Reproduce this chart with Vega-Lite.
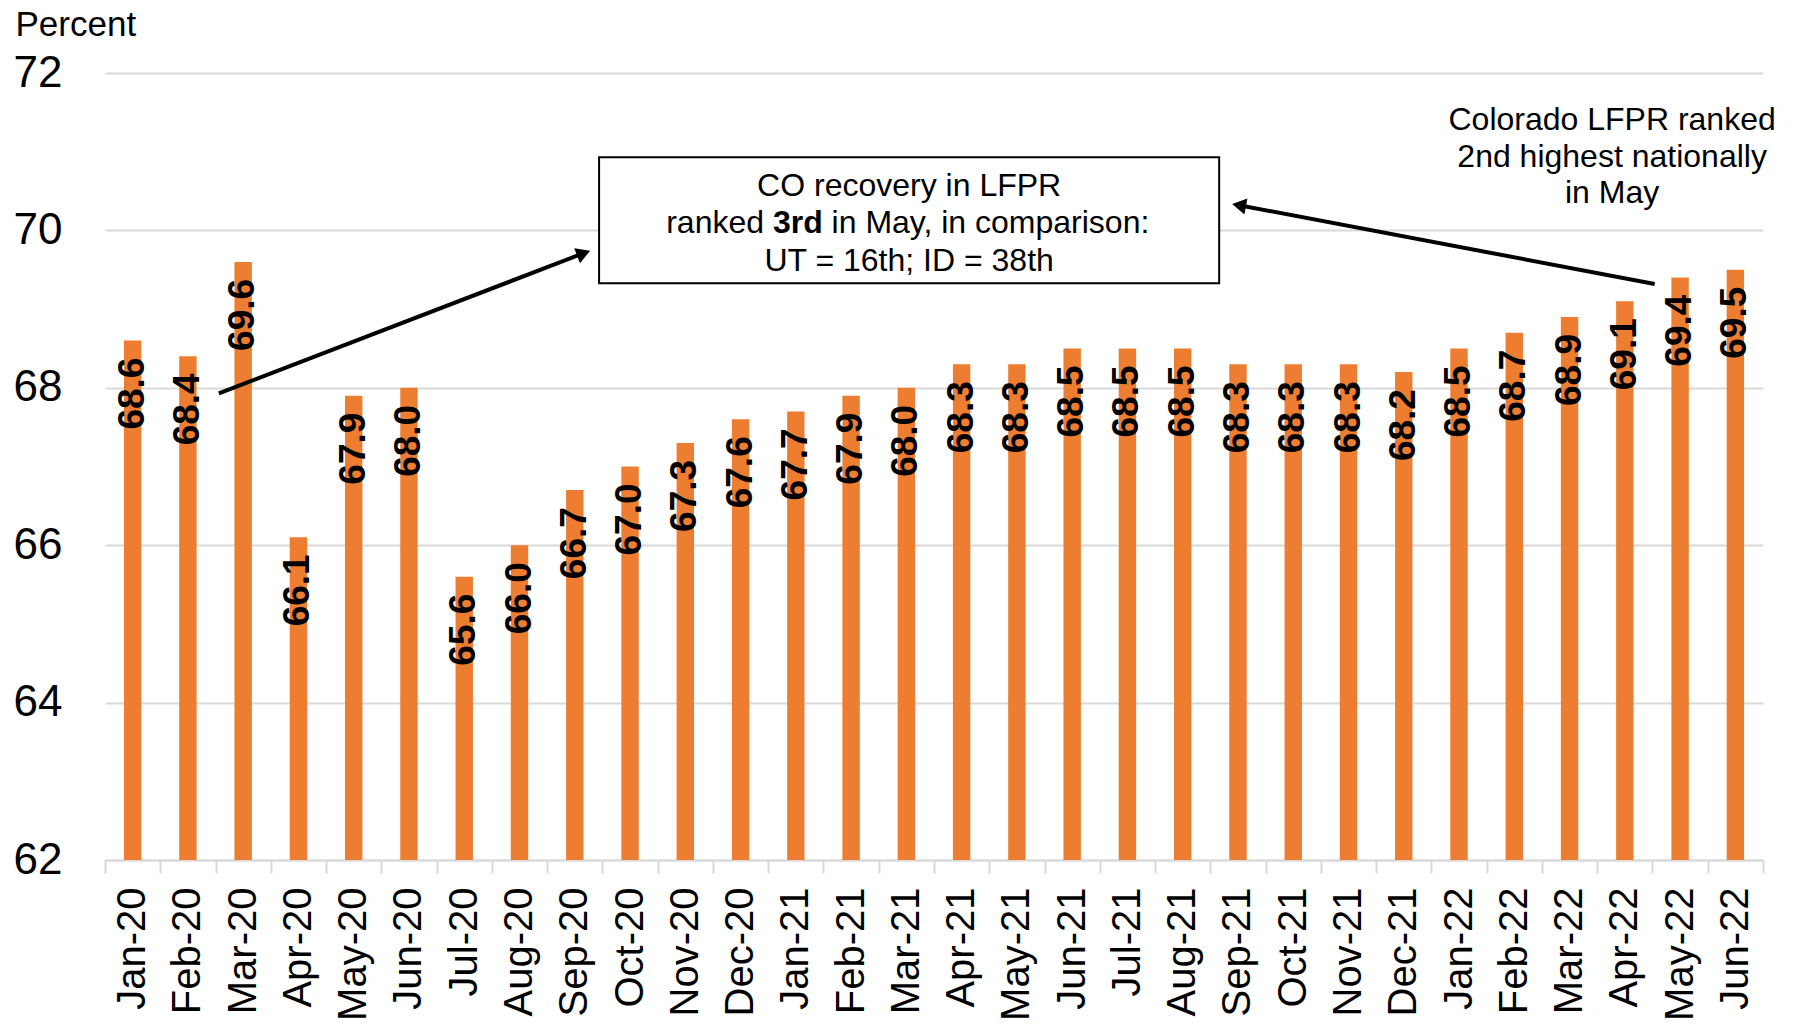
{
  "$schema": "https://vega.github.io/schema/vega-lite/v6.json",
  "width": 1658,
  "height": 787,
  "autosize": {"type": "none"},
  "padding": {"left": 105, "top": 73, "right": 32, "bottom": 168},
  "background": "white",
  "config": {"font": "Liberation Sans", "view": {"stroke": null}},
  "datasets": {
    "lfpr": [
      {"month": "Jan-20", "value": 68.6},
      {"month": "Feb-20", "value": 68.4},
      {"month": "Mar-20", "value": 69.6},
      {"month": "Apr-20", "value": 66.1},
      {"month": "May-20", "value": 67.9},
      {"month": "Jun-20", "value": 68.0},
      {"month": "Jul-20", "value": 65.6},
      {"month": "Aug-20", "value": 66.0},
      {"month": "Sep-20", "value": 66.7},
      {"month": "Oct-20", "value": 67.0},
      {"month": "Nov-20", "value": 67.3},
      {"month": "Dec-20", "value": 67.6},
      {"month": "Jan-21", "value": 67.7},
      {"month": "Feb-21", "value": 67.9},
      {"month": "Mar-21", "value": 68.0},
      {"month": "Apr-21", "value": 68.3},
      {"month": "May-21", "value": 68.3},
      {"month": "Jun-21", "value": 68.5},
      {"month": "Jul-21", "value": 68.5},
      {"month": "Aug-21", "value": 68.5},
      {"month": "Sep-21", "value": 68.3},
      {"month": "Oct-21", "value": 68.3},
      {"month": "Nov-21", "value": 68.3},
      {"month": "Dec-21", "value": 68.2},
      {"month": "Jan-22", "value": 68.5},
      {"month": "Feb-22", "value": 68.7},
      {"month": "Mar-22", "value": 68.9},
      {"month": "Apr-22", "value": 69.1},
      {"month": "May-22", "value": 69.4},
      {"month": "Jun-22", "value": 69.5}
    ],
    "arrows": [
      {"id": 1, "x": 2.06, "y": 67.93, "x2": 8.66, "y2": 69.71},
      {"id": 2, "x": 28.04, "y": 69.32, "x2": 20.52, "y2": 70.32}
    ],
    "box": [
      {"x": 8.94, "x2": 20.16, "y": 70.93, "y2": 69.33}
    ],
    "notes": [
      {"part": "c", "x": 14.55, "y": 70.57, "text": "CO recovery in LFPR"},
      {"part": "r", "x": 11.925, "y": 70.09, "text": "ranked"},
      {"part": "b", "x": 12.535, "y": 70.09, "text": "3rd"},
      {"part": "l", "x": 13.147, "y": 70.09, "text": "in May, in comparison:"},
      {"part": "c", "x": 14.55, "y": 69.61, "text": "UT = 16th; ID = 38th"},
      {"part": "c", "x": 27.27, "y": 71.40, "text": "Colorado LFPR ranked"},
      {"part": "c", "x": 27.27, "y": 70.93, "text": "2nd highest nationally"},
      {"part": "c", "x": 27.27, "y": 70.47, "text": "in May"}
    ]
  },
  "layer": [
    {
      "data": {"name": "lfpr"},
      "mark": {"type": "bar", "color": "#ED7D31", "clip": true, "width": {"band": 0.315}},
      "encoding": {
        "x": {
          "field": "month", "type": "nominal", "sort": null,
          "scale": {"paddingInner": 0, "paddingOuter": 0},
          "axis": {
            "title": null, "labelAngle": -90, "labelAlign": "right", "labelBaseline": "middle",
            "labelFontSize": 40, "labelColor": "#000000",
            "labelPadding": 14, "tickSize": 13, "tickColor": "#d9d9d9", "tickWidth": 2,
            "domainColor": "#d9d9d9", "domainWidth": 2, "tickBand": "extent", "grid": false
          }
        },
        "y": {
          "field": "value", "type": "quantitative",
          "scale": {"domain": [62, 72], "nice": false, "zero": false},
          "axis": {
            "title": "Percent", "titleAngle": 0, "titleX": -90, "titleY": -38,
            "titleAlign": "left", "titleBaseline": "alphabetic", "titleFontSize": 35,
            "titleFontWeight": "normal", "titleColor": "#000000", "format": "d",
            "values": [62, 64, 66, 68, 70, 72], "labelFontSize": 44, "labelColor": "#000000",
            "labelPadding": 43, "ticks": false, "domain": false,
            "gridColor": "#d9d9d9", "gridWidth": 2
          }
        }
      }
    },
    {
      "data": {"name": "lfpr"},
      "mark": {"type": "text", "angle": 270, "align": "right", "baseline": "middle", "dx": -17, "fontSize": 37, "fontWeight": "bold", "color": "#000000"},
      "encoding": {
        "x": {"field": "month", "type": "nominal", "sort": null, "scale": {"paddingInner": 0, "paddingOuter": 0}, "axis": null},
        "y": {"field": "value", "type": "quantitative"},
        "text": {"field": "value", "type": "quantitative", "format": ".1f"}
      }
    },
    {
      "data": {"name": "box"},
      "mark": {"type": "rect", "fill": "#ffffff", "stroke": "#000000", "strokeWidth": 2},
      "encoding": {
        "x": {"field": "x", "type": "quantitative", "scale": {"domain": [0, 30], "nice": false, "zero": false}, "axis": null},
        "x2": {"field": "x2"},
        "y": {"field": "y", "type": "quantitative"},
        "y2": {"field": "y2"}
      }
    },
    {
      "data": {"name": "arrows"},
      "mark": {"type": "rule", "color": "#000000", "strokeWidth": 4},
      "encoding": {
        "x": {"field": "x", "type": "quantitative", "scale": {"domain": [0, 30], "nice": false, "zero": false}, "axis": null},
        "x2": {"field": "x2"},
        "y": {"field": "y", "type": "quantitative"},
        "y2": {"field": "y2"}
      }
    },
    {
      "data": {"name": "arrows"},
      "transform": [{"filter": "datum.id === 1"}],
      "mark": {"type": "point", "shape": "triangle-right", "filled": true, "color": "#000000", "opacity": 1, "size": 260, "angle": -21},
      "encoding": {
        "x": {"field": "x2", "type": "quantitative", "scale": {"domain": [0, 30], "nice": false, "zero": false}, "axis": null},
        "y": {"field": "y2", "type": "quantitative"}
      }
    },
    {
      "data": {"name": "arrows"},
      "transform": [{"filter": "datum.id === 2"}],
      "mark": {"type": "point", "shape": "triangle-left", "filled": true, "color": "#000000", "opacity": 1, "size": 260, "angle": 10.7},
      "encoding": {
        "x": {"field": "x2", "type": "quantitative", "scale": {"domain": [0, 30], "nice": false, "zero": false}, "axis": null},
        "y": {"field": "y2", "type": "quantitative"}
      }
    },
    {
      "data": {"name": "notes"},
      "transform": [{"filter": "datum.part === 'c'"}],
      "mark": {"type": "text", "align": "center", "baseline": "middle", "fontSize": 32, "color": "#000000"},
      "encoding": {
        "x": {"field": "x", "type": "quantitative", "scale": {"domain": [0, 30], "nice": false, "zero": false}, "axis": null},
        "y": {"field": "y", "type": "quantitative"},
        "text": {"field": "text"}
      }
    },
    {
      "data": {"name": "notes"},
      "transform": [{"filter": "datum.part === 'r'"}],
      "mark": {"type": "text", "align": "right", "baseline": "middle", "fontSize": 32, "color": "#000000"},
      "encoding": {
        "x": {"field": "x", "type": "quantitative", "scale": {"domain": [0, 30], "nice": false, "zero": false}, "axis": null},
        "y": {"field": "y", "type": "quantitative"},
        "text": {"field": "text"}
      }
    },
    {
      "data": {"name": "notes"},
      "transform": [{"filter": "datum.part === 'b'"}],
      "mark": {"type": "text", "align": "center", "baseline": "middle", "fontSize": 32, "fontWeight": "bold", "color": "#000000"},
      "encoding": {
        "x": {"field": "x", "type": "quantitative", "scale": {"domain": [0, 30], "nice": false, "zero": false}, "axis": null},
        "y": {"field": "y", "type": "quantitative"},
        "text": {"field": "text"}
      }
    },
    {
      "data": {"name": "notes"},
      "transform": [{"filter": "datum.part === 'l'"}],
      "mark": {"type": "text", "align": "left", "baseline": "middle", "fontSize": 32, "color": "#000000"},
      "encoding": {
        "x": {"field": "x", "type": "quantitative", "scale": {"domain": [0, 30], "nice": false, "zero": false}, "axis": null},
        "y": {"field": "y", "type": "quantitative"},
        "text": {"field": "text"}
      }
    }
  ],
  "resolve": {"scale": {"x": "independent"}}
}
